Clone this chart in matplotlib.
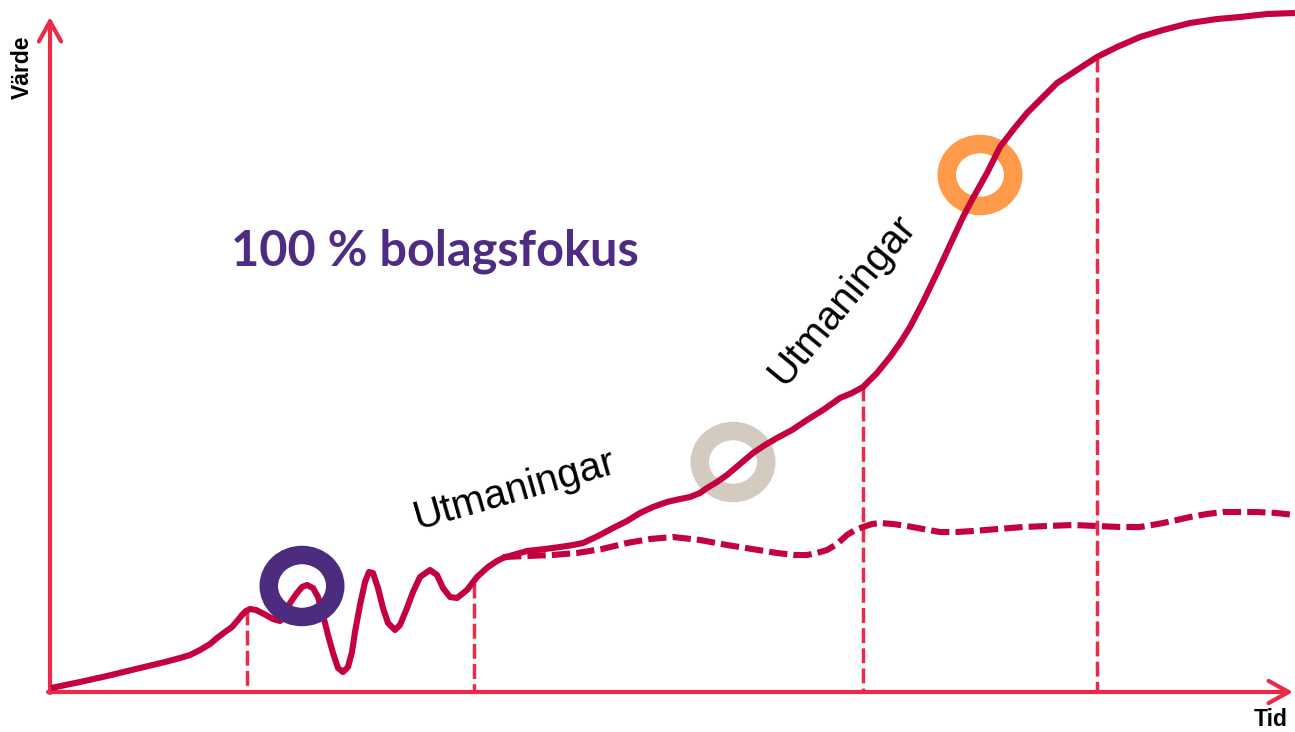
import matplotlib
matplotlib.use("Agg")
import matplotlib.pyplot as plt
from matplotlib.patches import Ellipse

# picture is drawn in pixel space (x right, y down)
main_x = [51, 80, 107, 140, 165, 180, 190, 200, 210, 217, 225, 232, 238, 242, 246, 250, 256, 264,
          273, 280, 286, 290, 297, 302, 307, 313, 318, 323, 328, 333, 338, 343, 348, 352, 355,
          360, 365, 369, 373, 378, 383, 388, 395, 400, 407, 413, 420, 430, 437, 443, 450, 457,
          467, 477, 488, 497, 503, 513, 527, 545, 560, 573, 583, 598, 613, 627, 640, 653, 667,
          680, 690, 700, 707, 717, 727, 740, 753, 765, 777, 792, 807, 823, 840, 852, 863, 877,
          890, 900, 910, 923, 937, 950, 963, 973, 987, 1000, 1013, 1027, 1040, 1057, 1077, 1097,
          1117, 1140, 1163, 1190, 1217, 1240, 1267, 1295]
main_y = [688, 682, 676, 668, 662, 658, 655, 650, 644, 638, 632, 627, 620, 615, 611, 609, 610, 614,
          619, 621, 615, 603, 593, 587, 585, 588, 597, 615, 635, 653, 668, 672, 667, 652, 632,
          605, 582, 572, 573, 588, 608, 623, 630, 625, 608, 592, 577, 570, 575, 588, 597, 598,
          590, 577, 567, 561, 558, 555, 551, 549, 547, 545, 543, 536, 528, 521, 513, 507, 502,
          499, 497, 493, 488, 482, 475, 464, 453, 445, 438, 430, 420, 410, 398, 393, 387, 373,
          357, 343, 327, 302, 273, 245, 217, 198, 173, 147, 130, 113, 100, 83, 70, 57,
          47, 37, 30, 23, 19, 17, 14, 13]

# dashed "without focus" curve
flat_x = [503, 527, 552, 577, 602, 627, 650, 673, 700, 727, 752, 777, 795, 807, 817, 827, 837,
          847, 855, 863, 872, 880, 893, 907, 923, 940, 957, 973, 998, 1023, 1048, 1073, 1097,
          1120, 1140, 1152, 1163, 1177, 1190, 1207, 1223, 1240, 1257, 1276, 1295]
flat_y = [557, 556, 555, 553, 549, 543, 539, 537, 540, 545, 549, 553, 555, 555, 553, 550, 544,
          535, 530, 527, 524, 523, 524, 526, 529, 532, 532, 531, 529, 527, 526, 525, 526,
          527, 527, 525, 523, 520, 517, 514, 512, 512, 512, 513, 515]

# vertical drop lines (x, top of line)
drop_x = [247, 474, 863, 1097]
drop_top = [610, 583, 386, 57]

# rings: centre, colour
ring_x = [302, 733, 980]
ring_y = [586, 462, 175]
ring_col = ['#4B2C7E', '#D3CBC0', '#FF9A4A']
ring_on_top = [True, False, False]

axis_red = '#EB2A47'
curve_red = '#C4003F'

fig = plt.figure(figsize=(12.95, 7.32), dpi=100)
ax = fig.add_axes([0, 0, 1, 1])
ax.set_xlim(0, 1295)
ax.set_ylim(732, 0)
ax.axis('off')

# axes with open arrow heads
arrow = dict(arrowstyle='->,head_length=1.45,head_width=0.8', lw=3, color=axis_red,
             shrinkA=0, shrinkB=0, capstyle='round', joinstyle='round')
ax.annotate('', xy=(50, 17), xytext=(50, 693), arrowprops=arrow)
ax.annotate('', xy=(1293, 692), xytext=(48, 692), arrowprops=arrow)

for x, top in zip(drop_x, drop_top):
    ax.plot([x, x], [top, 692], color=axis_red, lw=2.5, linestyle=(0, (4.3, 1.5)),
            dash_capstyle='butt', zorder=2)

ax.plot(main_x, main_y, color=curve_red, lw=4.4, solid_joinstyle='round',
        solid_capstyle='butt', zorder=3)
ax.plot(flat_x, flat_y, color=curve_red, lw=4.4, linestyle=(0, (3.0, 1.0)),
        dash_capstyle='butt', zorder=3)

for x, y, c, top in zip(ring_x, ring_y, ring_col, ring_on_top):
    ring = Ellipse((x, y), 66.5, 62, facecolor='none', edgecolor=c, lw=13.3,
                   zorder=4 if top else 2.5)
    ax.add_patch(ring)

ax.text(435, 266, '100 % bolagsfokus', color='#4E2C84', fontsize=35, fontweight='bold',
        family='Lato', ha='center', va='baseline')
ax.text(515, 490, 'Utmaningar', fontsize=29, family='Liberation Sans', rotation=16,
        rotation_mode='anchor', ha='center', va='center')
ax.text(842, 300, 'Utmaningar', fontsize=29, family='Liberation Sans', rotation=50.5,
        rotation_mode='anchor', ha='center', va='center')
ax.text(22, 67, 'Värde', fontsize=16.5, fontweight='bold', family='Liberation Sans',
        rotation=90, ha='center', va='center')
ax.text(1271, 720, 'Tid', fontsize=16.5, fontweight='bold', family='Liberation Sans',
        ha='center', va='center')

fig.savefig('out.png', dpi=100)
